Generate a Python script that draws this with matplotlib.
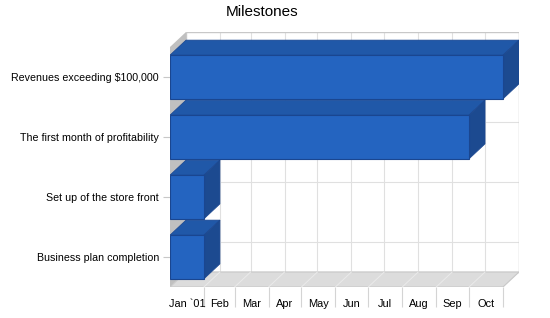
import numpy as np, pandas as pd
import matplotlib
matplotlib.use('Agg')
import matplotlib.pyplot as plt
from matplotlib.patches import Polygon, Rectangle

# data
tasks  = ['Business plan completion', 'Set up of the store front',
          'The first month of profitability', 'Revenues exceeding $100,000']
starts = ['2001-01-01', '2001-01-01', '2001-01-01', '2001-01-01']
ends   = ['2001-01-31', '2001-01-31', '2001-09-30', '2001-10-31']
months = ['Jan `01', 'Feb', 'Mar', 'Apr', 'May', 'Jun', 'Jul', 'Aug', 'Sep', 'Oct']

plt.rcParams['font.family'] = ['Liberation Sans', 'DejaVu Sans']

t0 = pd.Timestamp('2001-01-01')
s = np.array([(pd.Timestamp(d) - t0).days for d in starts], float)
e = np.array([(pd.Timestamp(d) - t0).days + 1 for d in ends], float)
bounds = np.array([(pd.Timestamp(2001, m, 1) - t0).days for m in range(1, 12)], float)
mids = (bounds[:-1] + bounds[1:]) / 2
xend = bounds[-1]

dx, dy = 14.6, 0.25          # 3d depth in data units
h = 0.73                     # bar thickness
y0, y1 = -0.5, len(tasks) - 0.5

fig = plt.figure(figsize=(5.5, 3.18), dpi=100)
ax = fig.add_axes([170/550, 31/318, 349/550, 255/318])
ax.set_xlim(0, xend + dx)
ax.set_ylim(y0, y1 + dy)
for sp in ax.spines.values():
    sp.set_visible(False)

grid = '#e0e0e0'
# back wall grid
for b in bounds[1:-1]:
    ax.plot([b + dx, b + dx], [y0 + dy, y1 + dy], color=grid, lw=0.8, zorder=1)
for i in range(len(tasks)):
    ax.plot([dx, xend + dx], [i + dy, i + dy], color=grid, lw=0.8, zorder=1)
ax.add_patch(Rectangle((dx, y0 + dy), xend, y1 - y0, fill=False,
                       ec='#c8c8c8', lw=1.0, zorder=2))
# left wall and floor
ax.add_patch(Polygon([(0, y0), (dx, y0 + dy), (dx, y1 + dy), (0, y1)],
                     fc='#c0c0c0', ec='none', zorder=3))
ax.add_patch(Polygon([(0, y0), (xend, y0), (xend + dx, y0 + dy), (dx, y0 + dy)],
                     fc='#dcdcdc', ec='#c8c8c8', lw=0.8, zorder=3))
for b in bounds[1:-1]:
    ax.plot([b, b + dx], [y0, y0 + dy], color='#eaeaea', lw=0.7, zorder=3)

# bars
front, top, side, edge = '#2464c0', '#2058a8', '#1c4a90', '#1a4690'
for i in range(len(tasks)):
    lo, hi = i - h/2, i + h/2
    ax.add_patch(Polygon([(s[i], hi), (e[i], hi), (e[i] + dx, hi + dy), (s[i] + dx, hi + dy)],
                         fc=top, ec=edge, lw=0.5, zorder=4))
    ax.add_patch(Polygon([(e[i], lo), (e[i] + dx, lo + dy), (e[i] + dx, hi + dy), (e[i], hi)],
                         fc=side, ec=edge, lw=0.5, zorder=4))
    ax.add_patch(Rectangle((s[i], lo), e[i] - s[i], h, fc=front, ec=edge, lw=0.8, zorder=5))

# axes ticks
ax.set_yticks(range(len(tasks)))
ax.set_yticklabels(tasks, fontsize=7.7)
ax.tick_params(axis='y', length=5, color='#c8c8c8', pad=3)
ax.set_xticks(bounds[1:])
ax.set_xticklabels([])
ax.tick_params(axis='x', which='major', length=14.4, color='#d4d4d4')
ax.set_xticks(mids, minor=True)
ax.set_xticklabels(months, minor=True, fontsize=7.9)
ax.tick_params(axis='x', which='minor', length=0, pad=8.5)

fig.text(262/550, 1 - 12/318, 'Milestones', ha='center', va='center', fontsize=11)

fig.savefig('out.png', dpi=100)
